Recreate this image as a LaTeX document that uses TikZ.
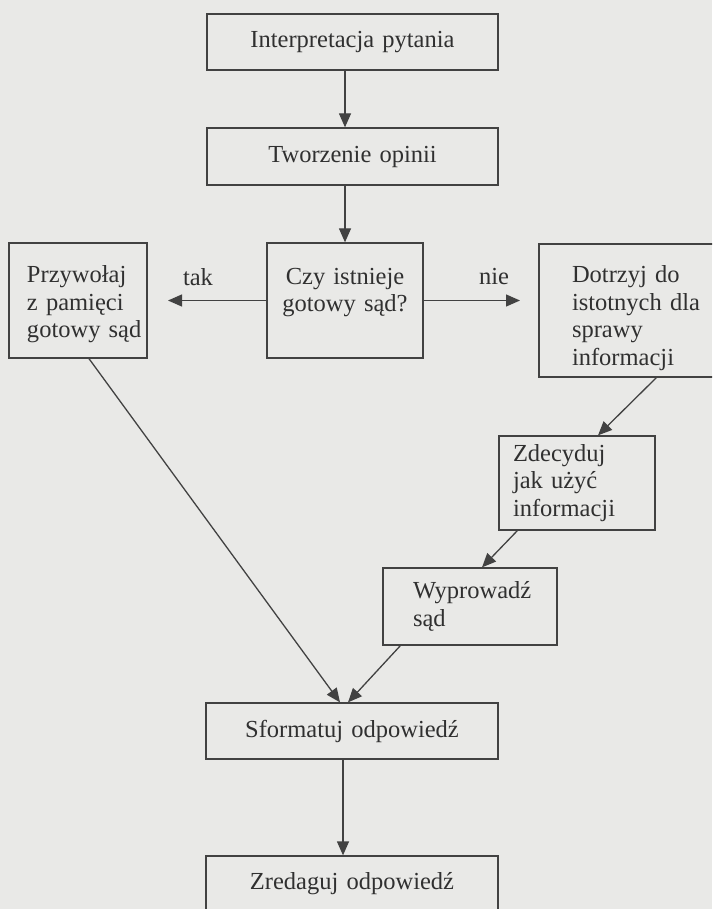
\documentclass[tikz,border=0pt]{standalone}
\usepackage{fontspec}
\setmainfont{Liberation Serif}
\usetikzlibrary{arrows.meta,calc}
\definecolor{bgcol}{RGB}{233,233,231}
\definecolor{linecol}{RGB}{66,66,66}
\definecolor{txtcol}{RGB}{48,48,48}
\tikzset{
  boxc/.style={draw=linecol, line width=1.3pt, text=txtcol, align=center,
    font=\fontsize{24.5}{27.5}\selectfont, inner ysep=0pt},
  boxl/.style={draw=linecol, line width=1.3pt, text=txtcol, align=left,
    font=\fontsize{24.5}{27.5}\selectfont, inner ysep=0pt},
  lbl/.style={text=txtcol, font=\fontsize{24.5}{27.5}\selectfont, inner sep=0pt},
  arr/.style={draw=linecol, line width=1.3pt, -{Triangle[length=14pt,width=12pt]}}
}
\begin{document}
\begin{tikzpicture}[x=1pt,y=-1pt]
\useasboundingbox (0,0) rectangle (712,909);
\clip (0,0) rectangle (712,909);
\fill[bgcol] (0,0) rectangle (712,909);

\node[boxc, minimum width=291pt, minimum height=56pt, text width=271pt, inner xsep=10pt] (b1) at (352.5,42) {Interpretacja pytania};
\node[boxc, minimum width=291pt, minimum height=57pt, text width=271pt, inner xsep=10pt] (b2) at (352.5,156.5) {Tworzenie opinii};
\node[boxc, minimum width=156pt, minimum height=115pt, text width=136pt, inner xsep=10pt, text depth=49pt] (czy) at (345,300.5) {Czy istnieje\\gotowy~sąd?};
\node[boxl, minimum width=138pt, minimum height=115pt, text width=102pt, inner xsep=18pt, text height=25pt] (przy) at (78,300.5) {Przywołaj\\z~pamięci\\gotowy~sąd};
\node[boxl, minimum width=194pt, minimum height=133pt, text width=128pt, inner xsep=33pt, text height=32pt] (dot) at (636,310.5) {Dotrzyj~do\\istotnych~dla\\sprawy\\informacji};
\node[boxl, minimum width=156pt, minimum height=94pt, text width=128pt, inner xsep=14pt] (zde) at (577,483) {Zdecyduj\\jak~użyć\\informacji};
\node[boxl, minimum width=174pt, minimum height=77pt, text width=114pt, inner xsep=30pt] (wyp) at (470,606.5) {Wyprowadź\\sąd};
\node[boxc, minimum width=292pt, minimum height=56pt, text width=272pt, inner xsep=10pt] (sform) at (352,731) {Sformatuj odpowiedź};
\node[boxc, minimum width=292pt, minimum height=56pt, text width=272pt, inner xsep=10pt] (zred) at (352,884) {Zredaguj odpowiedź};

\node[lbl] (tak) at (198,277) {tak};
\node[lbl] (nie) at (494,277) {nie};

\coordinate (takend) at (168,300.5);
\coordinate (nieend) at (520,300.5);

\draw[arr] (b1.south -| czy.north) -- (b2.north -| czy.north);
\draw[arr] (b2.south -| czy.north) -- (czy.north);
\draw[arr] (czy.west) -- (takend);
\draw[arr] (czy.east) -- (nieend);
\draw[arr] ([xshift=11pt]przy.south) -- ([xshift=-12pt]sform.north);
\draw[arr] ([xshift=118pt]dot.south west) -- ([xshift=21pt]zde.north);
\draw[arr] ([xshift=19pt]zde.south west) -- ([xshift=12pt]wyp.north);
\draw[arr] ([xshift=18pt]wyp.south west) -- ([xshift=-4pt]sform.north);
\draw[arr] ([xshift=-9pt]sform.south) -- ([xshift=-9pt]zred.north);
\end{tikzpicture}
\end{document}
